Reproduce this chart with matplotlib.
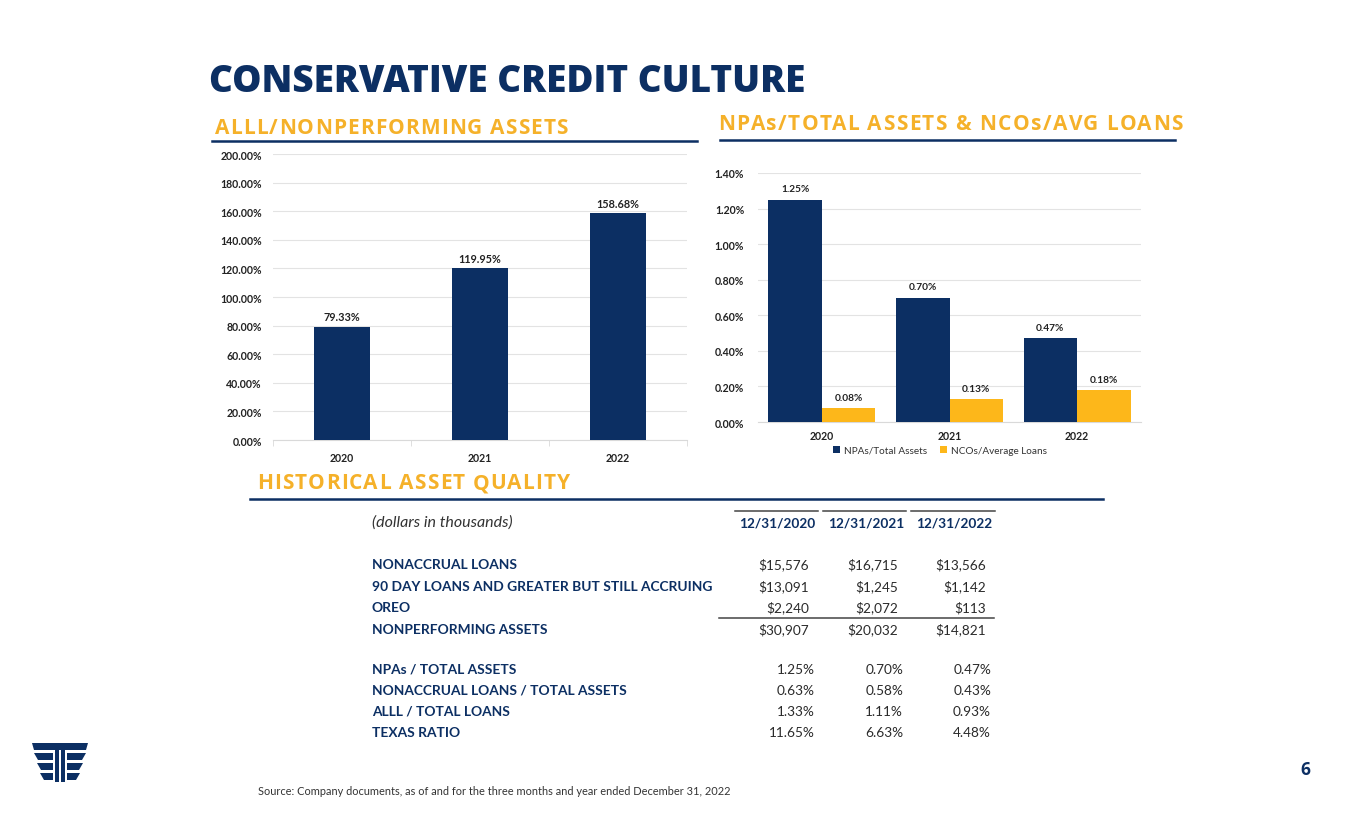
import numpy as np
import matplotlib.pyplot as plt
from matplotlib.patches import Polygon
from matplotlib.lines import Line2D
from matplotlib.font_manager import FontProperties

NAVY = '#0C2F63'
GOLD = '#FDB71A'
HEAD_GOLD = '#F5B12A'

# ---- data ----
years = ['2020', '2021', '2022']
alll_npa = [79.33, 119.95, 158.68]
npa_ta = [1.25, 0.70, 0.47]
nco_avg = [0.08, 0.13, 0.18]

tbl_dates = ['12/31/2020', '12/31/2021', '12/31/2022']
tbl_rows1 = ['NONACCRUAL LOANS', '90 DAY LOANS AND GREATER BUT STILL ACCRUING',
             'OREO', 'NONPERFORMING ASSETS']
tbl_vals1 = [['$15,576', '$16,715', '$13,566'],
             ['$13,091', '$1,245', '$1,142'],
             ['$2,240', '$2,072', '$113'],
             ['$30,907', '$20,032', '$14,821']]
tbl_rows2 = ['NPAs / TOTAL ASSETS', 'NONACCRUAL LOANS / TOTAL ASSETS',
             'ALLL / TOTAL LOANS', 'TEXAS RATIO']
tbl_vals2 = [['1.25%', '0.70%', '0.47%'],
             ['0.63%', '0.58%', '0.43%'],
             ['1.33%', '1.11%', '0.93%'],
             ['11.65%', '6.63%', '4.48%']]

W, H = 1365, 829
CHART = 'Lato'
TBL = 'Lato'


def fx(x):
    return x / W


def fy(y):
    return 1 - y / H


fig = plt.figure(figsize=(13.65, 8.29), dpi=100)
renderer = fig.canvas.get_renderer()


def spaced_text(x0, x1, y, s, prop, color):
    """draw s letter by letter so that it runs from pixel x0 to x1"""
    full = renderer.get_text_width_height_descent(s, prop, ismath=False)[0]
    gap = (x1 - x0 - full) / (len(s) - 1)
    for i, ch in enumerate(s):
        w = renderer.get_text_width_height_descent(s[:i], prop, ismath=False)[0] if i else 0
        fig.text(fx(x0 + w + i * gap), fy(y), ch, fontproperties=prop, color=color,
                 va='center', ha='left')


# ---- headings ----
fig.text(fx(209), fy(83), 'CONSERVATIVE CREDIT CULTURE', family='Open Sans',
         weight='heavy', size=26.6, color=NAVY, va='center', ha='left')
hp = FontProperties(family='Open Sans', weight='bold', size=15.0)
spaced_text(215, 568, 129, 'ALLL/NONPERFORMING ASSETS', hp, HEAD_GOLD)
spaced_text(718, 1183, 125, 'NPAs/TOTAL ASSETS & NCOs/AVG LOANS', hp, HEAD_GOLD)
spaced_text(257, 570, 484, 'HISTORICAL ASSET QUALITY', hp, HEAD_GOLD)
for x0, x1, y in [(212, 697, 142), (720, 1175, 141), (250, 1103, 500)]:
    fig.add_artist(Line2D([fx(x0), fx(x1)], [fy(y), fy(y)], color=NAVY, lw=1.8))

# ---- left chart ----
ax1 = fig.add_axes([fx(273), fy(441), fx(414), (441 - 155) / H])
xs = np.arange(len(years))
ax1.bar(xs, alll_npa, width=0.41, color=NAVY, zorder=3)
for x, v in zip(xs, alll_npa):
    ax1.text(x, v + 3, f'{v:.2f}%', ha='center', va='bottom', family=CHART,
             weight='bold', size=7.8, color='#222222')
ax1.set_xlim(-0.5, 2.5)
ax1.set_ylim(0, 200)
ax1.set_yticks(np.arange(0, 201, 20))
ax1.set_yticklabels([f'{v:.2f}%' for v in np.arange(0, 201, 20)])
ax1.set_xticks(xs)
ax1.set_xticklabels(years)
ax1.set_xticks([-0.5, 0.5, 1.5, 2.5], minor=True)
ax1.tick_params(axis='y', length=0, pad=8)
ax1.tick_params(axis='x', which='major', length=0, pad=9)
ax1.tick_params(axis='x', which='minor', length=4, color='#D9D9D9')
ax1.grid(axis='y', color='#E3E3E3', lw=0.8, zorder=0)

# ---- right chart ----
ax2 = fig.add_axes([fx(758), fy(423), fx(383), (423 - 174) / H])
bw = 0.42
ax2.bar(xs - bw / 2, npa_ta, width=bw, color=NAVY, zorder=3, label='NPAs/Total Assets')
ax2.bar(xs + bw / 2, nco_avg, width=bw, color=GOLD, zorder=3, label='NCOs/Average Loans')
for x, v in zip(xs - bw / 2, npa_ta):
    ax2.text(x, v + 0.035, f'{v:.2f}%', ha='center', va='bottom', family=CHART,
             weight='bold', size=7.3, color='#222222')
for x, v in zip(xs + bw / 2, nco_avg):
    ax2.text(x, v + 0.035, f'{v:.2f}%', ha='center', va='bottom', family=CHART,
             weight='bold', size=7.3, color='#222222')
ax2.set_xlim(-0.5, 2.5)
ax2.set_ylim(0, 1.4)
ax2.set_yticks(np.arange(0, 1.41, 0.2))
ax2.set_yticklabels([f'{v:.2f}%' for v in np.arange(0, 1.41, 0.2)])
ax2.set_xticks(xs)
ax2.set_xticklabels(years)
ax2.tick_params(axis='y', length=0, pad=10)
ax2.tick_params(axis='x', length=0, pad=6)
ax2.grid(axis='y', color='#E3E3E3', lw=0.8, zorder=0)
leg = ax2.legend(loc='upper center', bbox_to_anchor=(0.475, -0.068), ncol=2, frameon=False,
                 prop={'family': CHART, 'size': 7.2}, handlelength=0.7, handleheight=0.7,
                 columnspacing=1.3, handletextpad=0.4, borderpad=0.2)
for t in leg.get_texts():
    t.set_color('#333333')

for ax in (ax1, ax2):
    for s in ['top', 'right', 'left']:
        ax.spines[s].set_visible(False)
    ax.spines['bottom'].set_color('#D9D9D9')
    for lab in ax.get_xticklabels() + ax.get_yticklabels():
        lab.set_family(CHART)
        lab.set_weight('bold')
        lab.set_size(7.6)
        lab.set_color('#222222')

# ---- table ----
lab_kw = dict(family=TBL, weight='bold', size=9.95, color=NAVY, va='center', ha='left')
val_kw = dict(family=TBL, size=9.8, color='#2A2A2A', va='center', ha='right')
fig.text(fx(372), fy(523), '(dollars in thousands)', family=TBL, style='italic',
         size=11.5, color='#333333', va='center')
hdr_c = [777, 866, 954]
for c, d in zip(hdr_c, tbl_dates):
    fig.text(fx(c), fy(523), d, family=TBL, weight='bold', size=9.8,
             color=NAVY, va='center', ha='center')
for x0, x1 in [(735, 818), (823, 906), (911, 995)]:
    fig.add_artist(Line2D([fx(x0), fx(x1)], [fy(512), fy(512)], color='#444444', lw=1.1))

val_r = [809, 898, 986]
for y, name, vals in zip([565, 587, 608, 630], tbl_rows1, tbl_vals1):
    fig.text(fx(372), fy(y), name, **lab_kw)
    for r, v in zip(val_r, vals):
        fig.text(fx(r), fy(y), v, **val_kw)
fig.add_artist(Line2D([fx(719), fx(994)], [fy(619), fy(619)], color='#444444', lw=1.1))

pct_r = [815, 903, 991]
for y, name, vals in zip([670, 691, 712, 733], tbl_rows2, tbl_vals2):
    fig.text(fx(372), fy(y), name, **lab_kw)
    for r, v in zip(pct_r, vals):
        fig.text(fx(r), fy(y), v, **val_kw)

# ---- footer ----
fig.text(fx(258), fy(792), 'Source: Company documents, as of and for the three months and year ended December 31, 2022',
         family=CHART, size=7.9, color='#333333', va='center')
fig.text(fx(1305), fy(770), '6', family='Open Sans', weight='bold', size=12.5,
         color=NAVY, va='center', ha='center')


# logo (rough shape)
def poly(pts):
    fig.add_artist(Polygon([(fx(a), fy(b)) for a, b in pts], closed=True,
                           color=NAVY, lw=0))


poly([(32, 744), (88, 744), (86, 751), (34, 751)])
for y0, inset in [(754, 2), (764, 5), (774, 8)]:
    poly([(32 + inset, y0), (53, y0), (53, y0 + 7), (36 + inset, y0 + 7)])
    poly([(67, y0), (88 - inset, y0), (84 - inset, y0 + 7), (67, y0 + 7)])
poly([(55, 751), (59, 751), (59, 783), (55, 783)])
poly([(61, 751), (65, 751), (65, 783), (61, 783)])

fig.savefig('out.png', dpi=100)
